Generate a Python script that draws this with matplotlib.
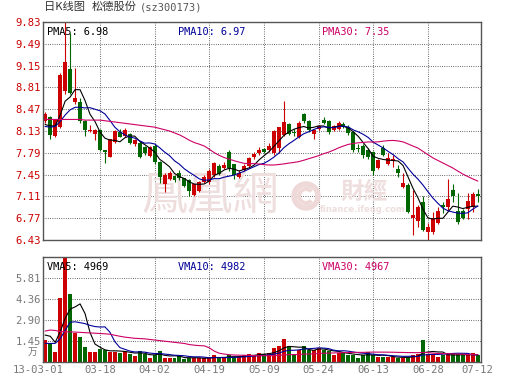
import matplotlib
matplotlib.use('Agg')
import matplotlib.pyplot as plt
import numpy as np
import pandas as pd
from matplotlib.patches import Wedge, Arc
from matplotlib.transforms import IdentityTransform, ScaledTranslation

# daily candles 2013-03-01 .. 2013-07-12 (88 trading days)
opens = [8.28, 8.35, 8.05, 8.20, 8.76, 9.09, 8.59, 8.59, 8.29, 8.13,
         8.09, 8.14, 7.83, 7.73, 7.96, 8.12, 8.05, 8.08, 7.93, 7.95,
         7.88, 7.74, 7.90, 7.64, 7.30, 7.38, 7.43, 7.47, 7.39, 7.37,
         7.13, 7.20, 7.34, 7.33, 7.44, 7.58, 7.56, 7.81, 7.61, 7.42,
         7.52, 7.58, 7.72, 7.78, 7.85, 7.83, 7.78, 7.86, 8.07, 8.24,
         8.12, 8.04, 8.40, 8.28, 8.09, 8.16, 8.30, 8.28, 8.15, 8.16,
         8.24, 8.20, 8.12, 7.86, 7.89, 7.83, 7.80, 7.55, 7.86, 7.62,
         7.66, 7.54, 7.26, 7.29, 6.77, 6.72, 7.03, 6.56, 6.56, 6.70,
         6.97, 6.94, 7.21, 6.89, 6.89, 6.92, 6.95, 7.14]
highs = [8.42, 8.37, 8.31, 9.03, 9.83, 9.66, 9.12, 8.65, 8.30, 8.22,
         8.16, 8.16, 7.84, 8.01, 8.14, 8.16, 8.17, 8.10, 8.00, 7.97,
         7.90, 7.89, 7.92, 7.66, 7.47, 7.50, 7.45, 7.52, 7.40, 7.38,
         7.31, 7.35, 7.45, 7.53, 7.65, 7.61, 7.64, 7.83, 7.62, 7.52,
         7.62, 7.73, 7.80, 7.88, 7.86, 7.94, 8.14, 8.20, 8.60, 8.25,
         8.16, 8.28, 8.41, 8.30, 8.16, 8.23, 8.35, 8.30, 8.23, 8.28,
         8.27, 8.22, 8.13, 7.92, 7.92, 7.86, 7.82, 7.70, 7.91, 7.78,
         7.75, 7.60, 7.47, 7.32, 7.21, 6.97, 7.11, 6.70, 6.87, 6.95,
         7.03, 7.38, 7.31, 7.16, 6.91, 7.16, 7.18, 7.23]
lows = [8.25, 8.01, 8.03, 8.18, 8.70, 8.70, 8.55, 8.25, 8.05, 8.12,
        7.99, 7.82, 7.63, 7.72, 7.95, 8.03, 8.04, 7.93, 7.90, 7.71,
        7.76, 7.73, 7.62, 7.32, 7.18, 7.36, 7.34, 7.36, 7.25, 7.11,
        7.12, 7.18, 7.32, 7.31, 7.42, 7.44, 7.53, 7.50, 7.38, 7.40,
        7.50, 7.56, 7.70, 7.76, 7.78, 7.81, 7.75, 7.78, 8.05, 8.06,
        8.05, 8.02, 8.26, 8.12, 8.01, 8.14, 8.24, 8.08, 8.13, 8.14,
        8.17, 8.06, 7.81, 7.80, 7.71, 7.70, 7.45, 7.53, 7.74, 7.60,
        7.57, 7.41, 7.24, 6.85, 6.51, 6.64, 6.57, 6.43, 6.53, 6.68,
        6.85, 6.89, 7.03, 6.68, 6.75, 6.75, 6.87, 7.03]
closes = [8.40, 8.07, 8.30, 9.00, 9.21, 8.72, 8.65, 8.29, 8.15, 8.15,
          8.15, 7.84, 7.80, 8.00, 8.13, 8.04, 8.15, 7.94, 7.99, 7.73,
          7.78, 7.88, 7.64, 7.42, 7.45, 7.47, 7.36, 7.39, 7.27, 7.19,
          7.30, 7.34, 7.42, 7.50, 7.63, 7.46, 7.60, 7.55, 7.44, 7.48,
          7.59, 7.71, 7.77, 7.84, 7.81, 7.90, 8.13, 8.19, 8.27, 8.09,
          8.10, 8.26, 8.28, 8.15, 8.15, 8.21, 8.25, 8.12, 8.21, 8.25,
          8.19, 8.10, 7.83, 7.85, 7.76, 7.72, 7.51, 7.68, 7.76, 7.71,
          7.69, 7.47, 7.32, 6.87, 6.82, 6.95, 6.59, 6.64, 6.78, 6.89,
          6.94, 7.07, 7.11, 6.71, 6.77, 7.04, 7.15, 7.12]
# volume in 万手
volumes = [1.52, 1.22, 0.71, 4.40, 7.26, 4.70, 1.98, 1.75, 1.06, 0.71,
           0.71, 0.90, 0.83, 0.71, 0.71, 0.64, 0.76, 0.55, 0.44, 0.76,
           0.53, 0.25, 0.48, 0.76, 0.30, 0.30, 0.30, 0.40, 0.22, 0.25,
           0.30, 0.28, 0.25, 0.28, 0.45, 0.30, 0.30, 0.45, 0.35, 0.40,
           0.50, 0.55, 0.50, 0.60, 0.55, 0.64, 0.94, 1.10, 1.60, 1.10,
           0.53, 0.80, 1.10, 0.80, 0.80, 1.00, 0.80, 0.75, 0.50, 0.62,
           0.62, 0.50, 0.50, 0.30, 0.48, 0.70, 0.45, 0.37, 0.37, 0.32,
           0.35, 0.28, 0.28, 0.37, 0.50, 0.52, 1.50, 0.57, 0.55, 0.33,
           0.50, 0.55, 0.52, 0.52, 0.45, 0.45, 0.60, 0.47]

# moving-average values before a full window exists
pma5_head = [8.23, 8.21, 8.21, 8.38]
pma10_head = [8.20, 8.19, 8.20, 8.28, 8.38, 8.46, 8.50, 8.50, 8.49]
pma30_head = [8.31, 8.31, 8.31, 8.31, 8.31, 8.31, 8.31, 8.31, 8.30, 8.30,
              8.30, 8.30, 8.29, 8.28, 8.27, 8.26, 8.25, 8.24, 8.23, 8.22,
              8.21, 8.20, 8.19, 8.17, 8.15, 8.13, 8.10, 8.07, 8.03]
vma5_head = [1.86, 1.78, 1.36, 2.10]
vma10_head = [1.29, 1.28, 1.29, 1.60, 2.20, 2.75, 2.78, 2.72, 2.65]
vma30_head = [2.14, 2.21, 2.18, 2.10, 2.09, 2.08, 2.07, 2.05, 2.03, 2.01,
              1.99, 1.97, 1.95, 1.92, 1.85, 1.78, 1.72, 1.68, 1.64, 1.62,
              1.60, 1.56, 1.52, 1.48, 1.44, 1.40, 1.36, 1.32, 1.28]

price_ticks = [6.43, 6.77, 7.11, 7.45, 7.79, 8.13, 8.47, 8.81, 9.15, 9.49, 9.83]
vol_ticks = [1.45, 2.90, 4.36, 5.81]
vol_max = 7.26
date_idx = [0, 11, 22, 33, 44, 55, 66, 77, 87]
date_labels = ['13-03-01', '03-18', '04-02', '04-19', '05-09',
               '05-24', '06-13', '06-28', '07-12']
pma_values = [6.98, 6.97, 7.35]
vma_values = [4969, 4982, 4967]

RED = '#cc0000'
GREEN = '#006600'
MA_COLORS = ['#000000', '#000099', '#cc0066']
GRID = dict(color='#444444', lw=0.75, ls=(0, (0.7, 1.45)), zorder=1)
MONO = 'DejaVu Sans Mono'
CJK = ['Noto Sans CJK SC', 'DejaVu Sans']


def moving(values, n, head):
    ma = pd.Series(values).rolling(n).mean().to_numpy()
    ma[:n - 1] = head
    return ma


o, h, l, c = map(np.array, (opens, highs, lows, closes))
vol = np.array(volumes)
x = np.arange(len(c))
cols = np.where(c >= o, RED, GREEN)

fig = plt.figure(figsize=(5.30, 3.91), dpi=100)
W, H = 530, 391
ax = fig.add_axes([43 / W, 1 - 240 / H, 438 / W, 218 / H])
axv = fig.add_axes([43 / W, 1 - 362 / H, 438 / W, 105 / H])

for a in (ax, axv):
    a.set_xlim(-0.46, 87.67)
    for s in a.spines.values():
        s.set_color('#555555')
        s.set_linewidth(1.0)
        s.set_zorder(6)
    a.tick_params(length=0, pad=1.5)
    for i in date_idx[1:-1]:
        a.axvline(i, **GRID)

# price panel
ax.set_ylim(price_ticks[0], price_ticks[-1])
ax.set_yticks(price_ticks)
ax.set_yticklabels([f'{v:.2f}' for v in price_ticks], color=RED,
                   family=MONO, fontsize=7.6)
ax.set_xticks([])
for v in price_ticks[1:-1]:
    ax.axhline(v, **GRID)

ax.vlines(x, l, h, colors=cols, lw=0.8, zorder=3)
ax.bar(x, np.maximum(np.abs(c - o), 0.008), bottom=np.minimum(o, c),
       width=0.8, color=cols, lw=0, zorder=3)

for n, head, col in zip((5, 10, 30), (pma5_head, pma10_head, pma30_head), MA_COLORS):
    ax.plot(x, moving(c, n, head), color=col, lw=0.8, zorder=4)

for name, val, col, px in zip(('PMA5', 'PMA10', 'PMA30'), pma_values, MA_COLORS, (47, 178, 322)):
    ax.text((px - 43) / 438, 0.955, f'{name}: {val:.2f}', transform=ax.transAxes,
            color=col, family=MONO, fontsize=7.4, va='center', ha='left', zorder=7)

# watermark
wm = '#efdede'
ax.text(210 / W, 1 - 195 / H, '鳳凰網', transform=fig.transFigure, color=wm,
        family=['Noto Sans CJK TC'], fontsize=33, ha='center', va='center', zorder=2)
ax.text(364 / W, 1 - 192 / H, '財經', transform=fig.transFigure, color=wm,
        family=['Noto Sans CJK TC'], fontsize=17, fontweight='bold',
        ha='center', va='center', zorder=2)
ax.text(363 / W, 1 - 210 / H, 'finance.ifeng.com', transform=fig.transFigure,
        color=wm, fontsize=6, fontweight='bold', ha='center', va='center', zorder=2)
ax.add_patch(Wedge((306, H - 196), 14, 0, 360, width=4, color='#eed8d8',
                   transform=IdentityTransform(), zorder=2))
ax.add_patch(Arc((306, H - 196), 14, 14, theta1=40, theta2=320, color='#eed8d8',
                 lw=3, transform=IdentityTransform(), zorder=2))

# volume panel
axv.set_ylim(0, vol_max)
axv.set_yticks(vol_ticks)
axv.set_yticklabels([f'{v:.2f}' for v in vol_ticks], color='#777777',
                    family=MONO, fontsize=7.6)
for v in vol_ticks:
    axv.axhline(v, **GRID)
axv.text(-0.012, 0.1, '万', transform=axv.transAxes, color='#777777',
         family=CJK, fontsize=7, ha='right', va='center')

axv.bar(x, vol, width=0.8, color=cols, lw=0, zorder=3)
for n, head, col in zip((5, 10, 30), (vma5_head, vma10_head, vma30_head), MA_COLORS):
    axv.plot(x, moving(vol, n, head), color=col, lw=0.8, zorder=4)

for name, val, col, px in zip(('VMA5', 'VMA10', 'VMA30'), vma_values, MA_COLORS, (47, 178, 322)):
    axv.text((px - 43) / 438, 0.905, f'{name}: {val}', transform=axv.transAxes,
             color=col, family=MONO, fontsize=7.4, va='center', ha='left', zorder=7)

axv.set_xticks(date_idx)
axv.set_xticklabels(date_labels, color='#777777', family=MONO, fontsize=7.6)
axv.tick_params(axis='x', pad=2.5)
first = axv.get_xticklabels()[0]
first.set_transform(first.get_transform() + ScaledTranslation(-7 / 100, 0, fig.dpi_scale_trans))

# title
fig.text(44 / W, 1 - 7 / H, '日K线图', family=CJK, fontsize=8.1, color='#333333', va='center')
fig.text(92 / W, 1 - 7 / H, '松德股份', family=CJK, fontsize=8.1, color='#333333', va='center')
fig.text(140 / W, 1 - 7 / H, '(sz300173)', family=MONO, fontsize=7.5, color='#555555', va='center')

fig.savefig('out.png', dpi=100)
